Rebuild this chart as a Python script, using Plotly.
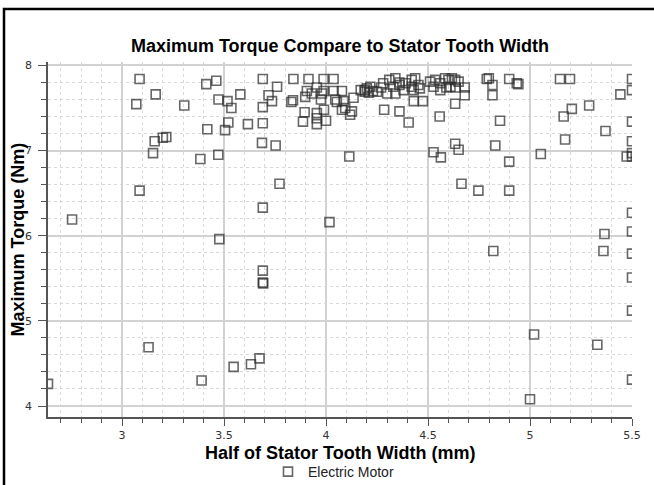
import plotly.graph_objects as go

# Half of stator tooth width (mm) for each simulated design
tooth_half_width = [
    2.637, 2.755, 3.086, 3.07, 3.165, 3.16, 3.20, 3.217, 3.152, 3.086,
    3.13, 3.305, 3.413, 3.462, 3.473, 3.517, 3.536, 3.58, 3.418, 3.505,
    3.521, 3.617, 3.384, 3.472, 3.477, 3.39, 3.547, 3.632, 3.674, 3.69,
    3.69, 3.69, 3.686, 3.69, 3.69, 3.69, 3.692, 3.76, 3.718, 3.735,
    3.753, 3.772, 3.84, 3.914, 3.988, 4.037, 3.838, 3.83, 3.906, 3.955,
    3.93, 3.98, 3.988, 4.037, 4.078, 3.898, 3.975, 4.045, 4.053, 4.086,
    4.135, 4.094, 4.127, 4.078, 4.118, 3.895, 3.955, 3.99, 3.887, 3.955,
    4.0, 3.955, 4.017, 4.114, 4.17, 4.19, 4.20, 4.21, 4.217, 4.23,
    4.25, 4.19, 4.28, 4.31, 4.34, 4.36, 4.39, 4.42, 4.437, 4.453,
    4.42, 4.33, 4.30, 4.34, 4.38, 4.43, 4.27, 4.43, 4.475, 4.285,
    4.36, 4.405, 4.51, 4.535, 4.56, 4.584, 4.60, 4.617, 4.633, 4.65,
    4.527, 4.56, 4.59, 4.61, 4.635, 4.68, 4.68, 4.633, 4.557, 4.633,
    4.65, 4.527, 4.563, 4.664, 4.747, 4.898, 4.898, 4.83, 4.853, 4.816,
    4.816, 4.788, 4.798, 4.898, 4.943, 4.935, 5.053, 5.147, 5.196, 5.205,
    5.165, 5.29, 5.443, 5.37, 5.172, 5.474, 5.5, 5.5, 5.5, 5.5,
    5.5, 5.5, 5.5, 5.5, 5.365, 5.36, 4.82, 5.5, 5.5, 5.5,
    5.02, 5.33, 5.5, 5.0, 4.36, 4.46,
]

# Maximum torque (Nm) reached by each design
max_torque = [
    4.26, 6.19, 7.84, 7.545, 7.66, 7.11, 7.15, 7.16, 6.97, 6.53,
    4.69, 7.53, 7.78, 7.82, 7.60, 7.58, 7.50, 7.66, 7.25, 7.24,
    7.33, 7.31, 6.90, 6.95, 5.96, 4.30, 4.46, 4.49, 4.56, 7.84,
    7.51, 7.32, 7.09, 6.33, 5.59, 5.45, 5.44, 7.75, 7.65, 7.58,
    7.06, 6.61, 7.84, 7.84, 7.84, 7.84, 7.59, 7.57, 7.70, 7.74,
    7.67, 7.67, 7.70, 7.70, 7.70, 7.63, 7.60, 7.60, 7.57, 7.58,
    7.62, 7.50, 7.46, 7.48, 7.42, 7.45, 7.44, 7.48, 7.34, 7.31,
    7.35, 7.38, 6.16, 6.93, 7.71, 7.71, 7.73, 7.68, 7.75, 7.70,
    7.69, 7.69, 7.79, 7.83, 7.85, 7.77, 7.79, 7.83, 7.85, 7.77,
    7.75, 7.75, 7.67, 7.67, 7.71, 7.71, 7.74, 7.58, 7.58, 7.48,
    7.46, 7.33, 7.81, 7.83, 7.79, 7.85, 7.83, 7.85, 7.83, 7.81,
    7.75, 7.71, 7.74, 7.75, 7.74, 7.74, 7.65, 7.55, 7.40, 7.08,
    7.01, 6.98, 6.92, 6.61, 6.53, 6.53, 6.87, 7.06, 7.35, 7.65,
    7.77, 7.84, 7.85, 7.84, 7.78, 7.79, 6.96, 7.84, 7.84, 7.49,
    7.40, 7.53, 7.66, 7.23, 7.13, 6.93, 6.93, 7.84, 7.71, 7.34,
    7.11, 6.97, 6.27, 6.05, 6.02, 5.82, 5.82, 5.79, 5.51, 5.12,
    4.84, 4.72, 4.31, 4.08, 7.80, 7.73,
]

series_name = "Electric Motor"
chart_title = "Maximum Torque Compare to Stator Tooth Width"
x_title = "Half of Stator Tooth Width (mm)"
y_title = "Maximum Torque (Nm)"

W, H = 654, 485
ML, MR, MT, MB = 48, 22, 62, 68
plot_w = W - ML - MR
plot_h = H - MT - MB


def px_to_paper_x(px):
    return (px - ML) / plot_w


def px_to_paper_y(py):
    return (H - MB - py) / plot_h


fig = go.Figure()
fig.add_trace(go.Scatter(
    x=tooth_half_width,
    y=max_torque,
    mode="markers",
    name=series_name,
    showlegend=True,
    cliponaxis=True,
    marker=dict(
        symbol="square-open",
        size=9,
        color="rgba(45,45,45,0.72)",
        line=dict(width=1.6, color="rgba(45,45,45,0.72)"),
    ),
))

tick_font = dict(family="DejaVu Sans", size=11, color="#333333")
bold_font = "Liberation Sans, Arial"
axis_title_font = dict(family=bold_font, size=18, color="#000000")

fig.update_layout(
    width=W,
    height=H,
    margin=dict(l=ML, r=MR, t=MT, b=MB, pad=0, autoexpand=False),
    paper_bgcolor="white",
    plot_bgcolor="white",
    title=dict(
        text="<b>" + chart_title + "</b>",
        x=(ML + plot_w / 2) / W,
        xanchor="center",
        xref="container",
        y=1 - 46 / H,
        yanchor="middle",
        yref="container",
        font=dict(family=bold_font, size=18, color="#000000"),
    ),
    showlegend=True,
    legend=dict(
        orientation="h",
        x=268 / W,
        xanchor="left",
        xref="container",
        y=1 - 472 / H,
        yanchor="middle",
        yref="container",
        font=dict(family=bold_font, size=14, color="#222222"),
        bgcolor="rgba(0,0,0,0)",
        itemwidth=30,
    ),
    xaxis=dict(
        range=[2.637, 5.5],
        tick0=0,
        dtick=0.5,
        showgrid=True,
        gridcolor="#d2d2d2",
        gridwidth=1.5,
        zeroline=False,
        showline=True,
        linecolor="#555555",
        linewidth=1.5,
        ticks="outside",
        ticklen=7,
        tickcolor="#555555",
        tickfont=tick_font,
        minor=dict(
            dtick=0.1,
            tick0=0,
            ticks="outside",
            ticklen=4,
            tickcolor="#555555",
            showgrid=True,
            gridcolor="#d8d8d8",
            griddash="dot",
            gridwidth=1,
        ),
        automargin=False,
    ),
    yaxis=dict(
        range=[3.871, 8.04],
        tick0=0,
        dtick=1,
        showgrid=True,
        gridcolor="#d2d2d2",
        gridwidth=1.5,
        zeroline=False,
        showline=True,
        linecolor="#555555",
        linewidth=1.5,
        ticks="outside",
        ticklen=8,
        ticklabelstandoff=4,
        tickcolor="#555555",
        tickfont=tick_font,
        minor=dict(
            dtick=0.2,
            tick0=0,
            ticks="outside",
            ticklen=5,
            tickcolor="#555555",
            showgrid=True,
            gridcolor="#d8d8d8",
            griddash="dot",
            gridwidth=1,
        ),
        automargin=False,
    ),
    annotations=[
        dict(
            text="<b>" + x_title + "</b>",
            xref="paper", yref="paper",
            x=0.5, y=px_to_paper_y(453),
            xanchor="center", yanchor="middle",
            showarrow=False,
            font=axis_title_font,
        ),
        dict(
            text="<b>" + y_title + "</b>",
            xref="paper", yref="paper",
            x=px_to_paper_x(17), y=0.5,
            xanchor="center", yanchor="middle",
            textangle=-90,
            showarrow=False,
            font=axis_title_font,
        ),
    ],
    shapes=[dict(
        type="rect",
        xref="paper",
        yref="paper",
        x0=px_to_paper_x(4),
        x1=px_to_paper_x(662),
        y0=px_to_paper_y(495),
        y1=px_to_paper_y(9),
        line=dict(color="#000000", width=2.5),
        fillcolor="rgba(0,0,0,0)",
        layer="above",
    )],
)

fig.write_html("out.html")
